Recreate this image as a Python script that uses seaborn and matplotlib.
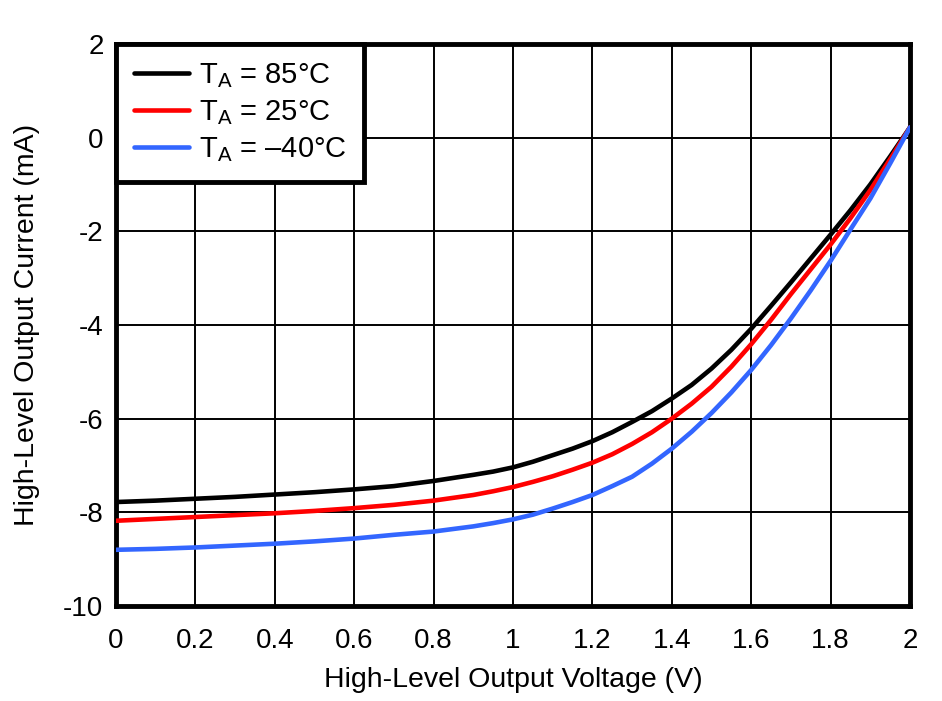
import numpy as np
import pandas as pd
import matplotlib
matplotlib.use("Agg")
import matplotlib.pyplot as plt
import seaborn as sns

voltage = [0.0, 0.1, 0.2, 0.3, 0.4, 0.5, 0.6, 0.7, 0.8, 0.9, 0.95,
           1.0, 1.05, 1.1, 1.15, 1.2, 1.25, 1.3, 1.35, 1.4, 1.45,
           1.5, 1.55, 1.6, 1.65, 1.7, 1.75, 1.8, 1.85, 1.9, 1.95, 2.0]
i_85 = [-7.78, -7.75, -7.71, -7.67, -7.62, -7.57, -7.51, -7.44, -7.33, -7.20, -7.13,
        -7.04, -6.92, -6.78, -6.64, -6.48, -6.29, -6.07, -5.84, -5.57, -5.28,
        -4.93, -4.53, -4.08, -3.59, -3.09, -2.58, -2.07, -1.55, -1.00, -0.40, 0.22]
i_25 = [-8.18, -8.14, -8.10, -8.06, -8.02, -7.97, -7.91, -7.84, -7.75, -7.63, -7.55,
        -7.46, -7.35, -7.23, -7.09, -6.94, -6.76, -6.54, -6.29, -6.00, -5.68,
        -5.32, -4.89, -4.41, -3.89, -3.34, -2.81, -2.28, -1.72, -1.12, -0.46, 0.22]
i_m40 = [-8.80, -8.78, -8.75, -8.71, -8.67, -8.62, -8.56, -8.48, -8.41, -8.30, -8.23,
         -8.15, -8.05, -7.92, -7.78, -7.63, -7.44, -7.24, -6.96, -6.64, -6.28,
         -5.88, -5.44, -4.96, -4.43, -3.86, -3.26, -2.63, -1.96, -1.30, -0.55, 0.22]
labels = [r"T$_\mathregular{A}$ = 85°C", r"T$_\mathregular{A}$ = 25°C", r"T$_\mathregular{A}$ = –40°C"]
colors = ["#000000", "#ff0000", "#3366ff"]
x_ticks = [0, 0.2, 0.4, 0.6, 0.8, 1, 1.2, 1.4, 1.6, 1.8, 2]
x_tick_labels = ["0", "0.2", "0.4", "0.6", "0.8", "1", "1.2", "1.4", "1.6", "1.8", "2"]
y_ticks = [2, 0, -2, -4, -6, -8, -10]
y_tick_labels = ["2", "0", "-2", "-4", "-6", "-8", "-10"]

df = pd.concat([
    pd.DataFrame({"V": voltage, "I": s, "T": lab})
    for s, lab in zip([i_85, i_25, i_m40], labels)
], ignore_index=True)

sns.set_style("white")
plt.rcParams["font.family"] = ["Liberation Sans", "DejaVu Sans"]
plt.rcParams["mathtext.fontset"] = "custom"
plt.rcParams["mathtext.rm"] = "Liberation Sans"
plt.rcParams["mathtext.it"] = "Liberation Sans"
for k in ["text.color", "axes.labelcolor", "xtick.color", "ytick.color"]:
    plt.rcParams[k] = "black"

fig = plt.figure(figsize=(9.42, 7.01), dpi=100)
ax = fig.add_axes([116/942, 1-606/701, (910-116)/942, (606-44)/701])

sns.lineplot(data=df, x="V", y="I", hue="T", palette=colors, hue_order=labels,
             linewidth=3.3, ax=ax, legend=True, zorder=3)

ax.set_xlim(0, 2)
ax.set_ylim(-10, 2)
ax.set_xticks(x_ticks)
ax.set_xticklabels(x_tick_labels)
ax.set_yticks(y_ticks)
ax.set_yticklabels(y_tick_labels)
ax.tick_params(axis="x", labelsize=20, length=0, pad=16)
ax.tick_params(axis="y", labelsize=20, length=0, pad=9)
ax.grid(True, color="black", linewidth=1.4)
ax.set_axisbelow(True)
for sp in ax.spines.values():
    sp.set_color("black")
    sp.set_linewidth(3.5)
ax.set_xlabel("High-Level Output Voltage (V)", fontsize=20.5, labelpad=9)
ax.set_ylabel("High-Level Output Current (mA)", fontsize=20.5, labelpad=17)

leg = ax.legend(loc="upper left", fontsize=21, frameon=True, fancybox=False,
                borderaxespad=0, handlelength=1.9, handletextpad=0.35,
                labelspacing=0.28, borderpad=0.6)
leg.get_frame().set_edgecolor("black")
leg.get_frame().set_linewidth(3.5)
leg.get_frame().set_alpha(1)
for h in leg.get_lines():
    h.set_linewidth(3.3)

fig.savefig("out.png", dpi=100)
